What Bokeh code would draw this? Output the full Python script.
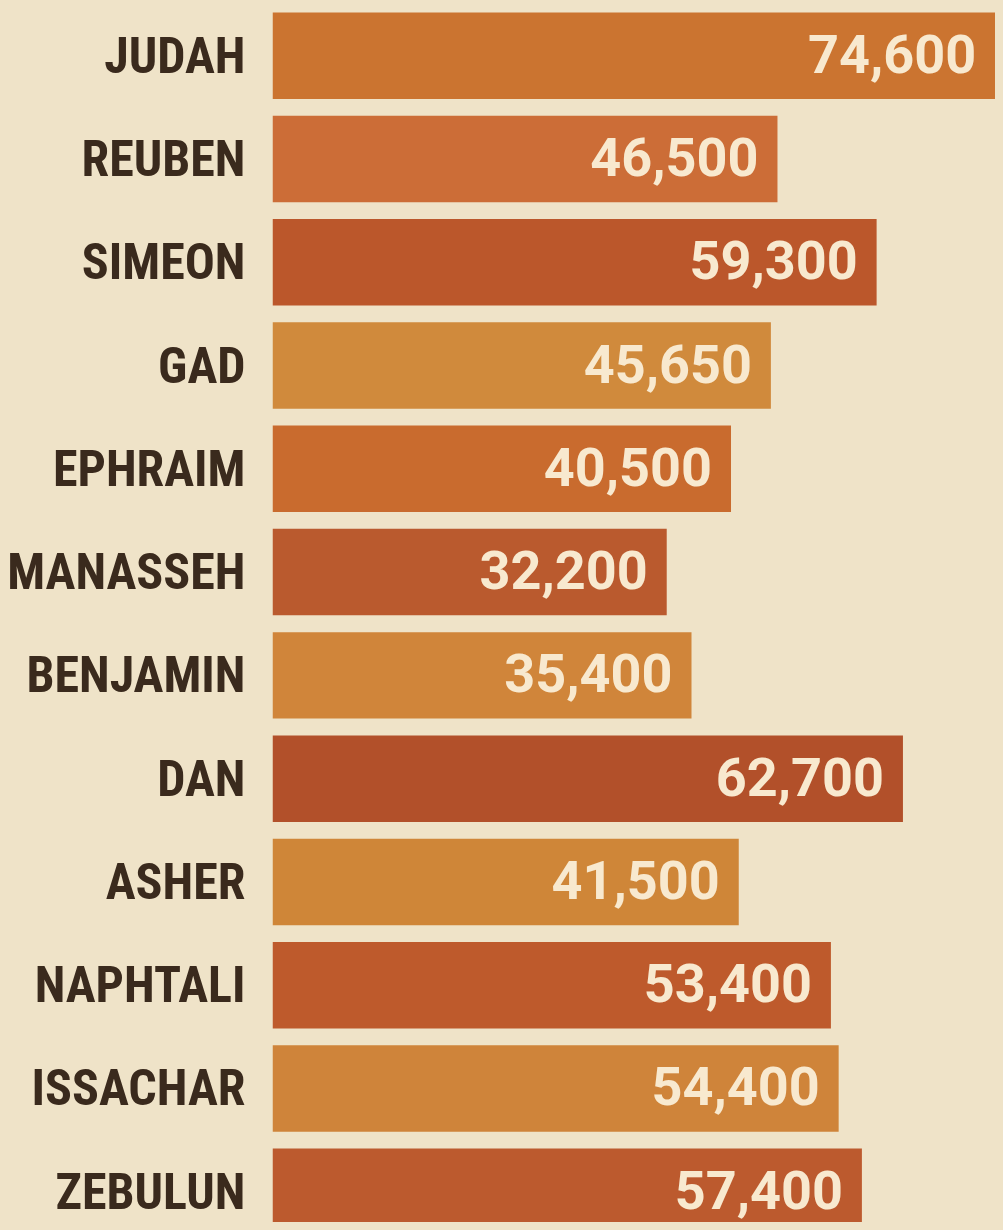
from bokeh.plotting import figure
from bokeh.models import ColumnDataSource, Range1d, FixedTicker, GlobalInlineStyleSheet
from bokeh.core.properties import value
from bokeh.embed import file_html
from bokeh.resources import INLINE

# ---- data ----
tribes = ["JUDAH", "REUBEN", "SIMEON", "GAD", "EPHRAIM", "MANASSEH",
          "BENJAMIN", "DAN", "ASHER", "NAPHTALI", "ISSACHAR", "ZEBULUN"]
counts = [74600, 46500, 59300, 45650, 40500, 32200,
          35400, 62700, 41500, 53400, 54400, 57400]
bar_colors = ["#cb7430", "#cc6d37", "#bb572b", "#d08a3c", "#c96b2e", "#ba5a2e",
              "#d0853a", "#b2502a", "#cf8638", "#be5a2c", "#cf843a", "#bc5a2e"]

BG = "#efe3c8"
BASE = -18700
XMAX = 74650

pos = list(range(len(tribes)))
src = ColumnDataSource(dict(y=pos, v=counts,
                            label=[f"{c:,}" for c in counts],
                            color=bar_colors))

p = figure(width=995, height=1222, output_backend="svg", toolbar_location=None,
           x_range=Range1d(BASE, XMAX), y_range=Range1d(11.298, -0.535),
           x_axis_location=None,
           min_border_left=272, min_border_right=0, min_border_top=0, min_border_bottom=0)

p.background_fill_color = BG
p.border_fill_color = BG
p.outline_line_color = None
p.grid.visible = False

p.hbar(y="y", left=BASE, right="v", height=0.8375, fill_color="color",
       line_color=None, source=src)
p.text(x="v", y="y", text="label", x_offset=-19, y_offset=-2, text_align="right",
       text_baseline="middle", text_font=value("Roboto"), text_font_style="bold",
       text_font_size="54px", text_color="#f8e9cf", source=src)

ax = p.yaxis[0]
ax.ticker = FixedTicker(ticks=pos)
ax.major_label_overrides = {i: t for i, t in zip(pos, tribes)}
ax.axis_line_color = None
ax.major_tick_line_color = None
ax.minor_tick_line_color = None
ax.major_tick_out = 0
ax.major_tick_in = 0
ax.major_label_standoff = 27
ax.major_label_text_font = "Roboto Condensed, DejaVu Sans Condensed"
ax.major_label_text_font_style = "bold"
ax.major_label_text_font_size = "50px"
ax.major_label_text_color = "#3a2a1d"

p.stylesheets.append(GlobalInlineStyleSheet(css=f"body {{ background: {BG}; }}"))

open("out.html", "w").write(file_html(p, INLINE))
